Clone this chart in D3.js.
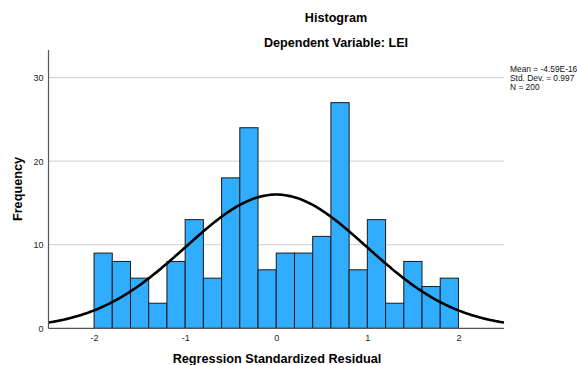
<!DOCTYPE html>
<html><head><meta charset="utf-8">
<script src="https://cdn.jsdelivr.net/npm/d3@7"></script>
<style>body{margin:0;background:#fff}svg{display:block}text{font-family:Arial,"Liberation Sans",sans-serif}</style>
</head><body>
<svg id="c" width="577" height="365"></svg>
<script>
const binStarts = [-2.0,-1.8,-1.6,-1.4,-1.2,-1.0,-0.8,-0.6,-0.4,-0.2,0.0,0.2,0.4,0.6,0.8,1.0,1.2,1.4,1.6,1.8];
const counts = [9,8,6,3,8,13,6,18,24,7,9,9,11,27,7,13,3,8,5,6];
const binWidth = 0.2;
const xTicks = [-2,-1,0,1,2];
const yTicks = [0,10,20,30];
const stats = ["Mean = -4.59E-16","Std. Dev. = 0.997","N = 200"];
const mean = -4.59e-16, sd = 0.997, N = 200;

const svg = d3.select("#c");
const x = d3.scaleLinear().domain([-2.5,2.5]).range([48.5,504]);
const y = d3.scaleLinear().domain([0,33.3]).range([328.3,50]);

// gridlines
svg.append("g").selectAll("line").data(yTicks.filter(d=>d>0)).join("line")
  .attr("x1",x(-2.5)).attr("x2",x(2.5)).attr("y1",d=>y(d)).attr("y2",d=>y(d))
  .attr("stroke","#cfcfcf").attr("stroke-width",1);

// bars
svg.append("g").selectAll("rect").data(counts).join("rect")
  .attr("x",(d,i)=>x(binStarts[i])).attr("width",(d,i)=>x(binStarts[i]+binWidth)-x(binStarts[i]))
  .attr("y",d=>y(d)).attr("height",d=>y(0)-y(d))
  .attr("fill","#31adff").attr("stroke","#1a1a1a").attr("stroke-width",1);

// normal curve
const xs = d3.range(-2.5,2.5001,0.02);
const pdf = v => N*binWidth*Math.exp(-0.5*((v-mean)/sd)**2)/(sd*Math.sqrt(2*Math.PI));
svg.append("path").datum(xs)
  .attr("d",d3.line().x(d=>x(d)).y(d=>y(pdf(d))).curve(d3.curveBasis))
  .attr("fill","none").attr("stroke","#000").attr("stroke-width",2.6);

// axes
const xa = svg.append("g").attr("transform",`translate(0,${y(0)})`)
  .call(d3.axisBottom(x).tickValues(xTicks).tickSize(0).tickPadding(6).tickFormat(d=>String(d)));
const ya = svg.append("g").attr("transform",`translate(${x(-2.5)},0)`)
  .call(d3.axisLeft(y).tickValues(yTicks).tickSize(0).tickPadding(5).tickFormat(d=>String(d)));
[xa,ya].forEach(a=>{
  a.select(".domain").attr("stroke","#555").attr("stroke-width",1.2);
  a.selectAll("text").attr("font-size",9).attr("fill","#222").style("font-family","Arial,'Liberation Sans',sans-serif");
});
xa.select(".domain").attr("d",`M${x(-2.5)},0H${x(2.5)}`);
ya.select(".domain").attr("d",`M0,${y(0)}V${y(33.3)}`);

// titles
svg.append("text").attr("x",336).attr("y",22).attr("text-anchor","middle")
  .attr("font-size",12.6).attr("font-weight","bold").text("Histogram");
svg.append("text").attr("x",336).attr("y",46.5).attr("text-anchor","middle")
  .attr("font-size",12.6).attr("font-weight","bold").text("Dependent Variable: LEI");
svg.append("text").attr("x",277).attr("y",363).attr("text-anchor","middle")
  .attr("font-size",12.7).attr("font-weight","bold").text("Regression Standardized Residual");
svg.append("text").attr("transform","translate(22,189) rotate(-90)").attr("text-anchor","middle")
  .attr("font-size",12.7).attr("font-weight","bold").text("Frequency");

// stats
svg.append("g").selectAll("text").data(stats).join("text")
  .attr("x",510).attr("y",(d,i)=>71.5+i*9).attr("font-size",8.4).attr("fill","#111").text(d=>d);
</script>
</body></html>
